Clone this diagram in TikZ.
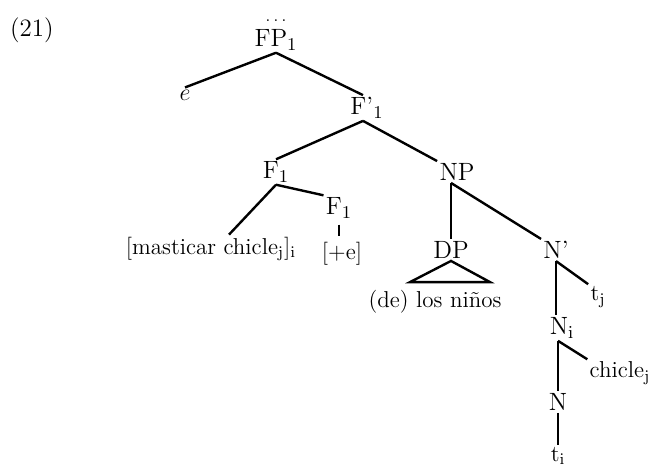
\documentclass[tikz,border=0pt]{standalone}
\usepackage{tikz}
\usetikzlibrary{calc}
\newcommand{\sub}[1]{$_{\mathrm{#1}}$}

\tikzset{
  cat/.style={inner sep=1pt,font=\fontsize{12.5}{14}\selectfont},
  word/.style={inner sep=1pt,font=\fontsize{11.5}{13}\selectfont},
  branch/.style={line width=1.2pt},
}

\begin{document}
\begin{tikzpicture}[x=0.5pt,y=-0.5pt]
    \useasboundingbox (0,0) rectangle (657,468);

    % labels of the tree
    \node[cat] (21) at (32,30) {(21)};
    \node[cat,label={[inner sep=0pt,label distance=2.5pt]above:{\footnotesize.\hspace{1.6pt}.\hspace{1.6pt}.}}] (fp) at (276,40) {FP\sub{1}};
    \node[word] (e) at (185,95) {$e$};
    \node[cat] (fbar) at (367,108) {F’\sub{1}};
    \node[cat] (f1) at (276,172) {F\sub{1}};
    \node[cat] (np) at (457,172) {NP};
    \node[word] (mast) at (211,249) {[masticar chicle\sub{j}]\sub{i}};
    \node[cat] (f1b) at (339,208) {F\sub{1}};
    \node[word] (pe) at (342,254) {[+e]};
    \node[cat] (dp) at (451,250) {DP};
    \node[cat] (nbar) at (556,250) {N’};
    \node[word] (dets) at (435,302) {(de) los niños};
    \node[word] (tj) at (598,297) {t\sub{j}};
    \node[cat] (ni) at (562,328) {N\sub{i}};
    \node[word] (chic) at (620,373) {chicle\sub{j}};
    \node[cat] (n) at (558,402) {N};
    \node[word] (ti) at (558,456) {t\sub{i}};

    % branches
    \draw[branch] (fp.south) -- (e.north);
    \draw[branch] (fp.south) -- ([xshift=-2pt]fbar.north);
    \draw[branch] ([xshift=-2pt]fbar.south) -- (f1.north);
    \draw[branch] ([xshift=-2pt]fbar.south) -- (np.north west);
    \draw[branch] (f1.south) -- ([xshift=9pt]mast.north);
    \draw[branch] (f1.south) -- (f1b.north west);
    \draw[branch,shorten <=2pt,shorten >=2pt] (f1b.south) -- (f1b.south |- pe.north);
    \draw[branch] (np.south -| dp.north) -- (dp.north);
    \draw[branch] (np.south -| dp.north) -- (nbar.north west);
    \draw[branch] (dp.south) -- ($(dets.north)+(-25,-6)$) -- ($(dets.north)+(55,-6)$) -- cycle;
    \draw[branch] (nbar.south) -- (nbar.south |- ni.north);
    \draw[branch] (nbar.south) -- (tj.north west);
    \draw[branch] (ni.south -| n.north) -- (n.north);
    \draw[branch] (ni.south -| n.north) -- (chic.north west);
    \draw[branch] (n.south) -- (ti.north);

\end{tikzpicture}
\end{document}
